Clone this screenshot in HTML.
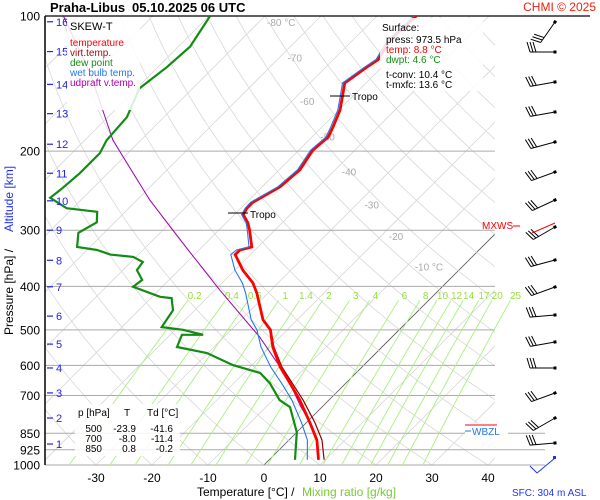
<!DOCTYPE html>
<html><head><meta charset="utf-8"><style>
body{margin:0;background:#fff;}
svg{display:block;font-family:"Liberation Sans",sans-serif;}
</style></head><body>
<svg id="chart" width="600" height="500" viewBox="0 0 600 500">
<defs><clipPath id="pc"><rect x="45" y="16" width="450" height="449"/></clipPath></defs>
<rect x="0" y="0" width="600" height="500" fill="#fff"/>
<g id="bg" clip-path="url(#pc)"></g>
<g id="plines"></g>
<g id="mix"></g>
<g id="series" clip-path="url(#pc)"></g>
<g id="axes"></g>
<g id="winds"></g>
<g id="txt"></g>
</svg>
<script>
const NS="http://www.w3.org/2000/svg";
// ---- data ----
const pressureTicks=[100,200,300,400,500,600,700,850,925,1000];
const tempTicks=[-30,-20,-10,0,10,20,30,40];
const isothermLabels=[-80,-70,-60,-50,-40,-30,-20,-10];
const altitudeKm=[1,2,3,4,5,6,7,8,9,10,11,12,13,14,15,16];
const altitudeP=[898,786,691,608,538,466,401,350,300,258,224,193,165,142,120,103];
const mixingRatios=[0.2,0.4,0.6,1,1.4,2,3,4,6,8,10,12,14,17,20,25];
const tempP=[973.5,880,806,717,657,605,546,500,475,414,393,368,340,332,327,300,289,277,268,260,240,220,199,186,177,162,150,141,130,125,113,100];
const tempT=[8.8,5.0,0.7,-5.2,-10.0,-14.6,-19.5,-23.0,-26.1,-32.0,-34.5,-38.6,-42.7,-42.7,-41.1,-44.5,-46.1,-48.4,-48.9,-48.9,-46.8,-46.3,-47.5,-47.1,-48.0,-49.8,-52.0,-53.8,-52.7,-52.0,-53.4,-53.0];
const virtT=[9.8,5.9,1.6,-4.6,-9.6,-14.3,-19.3,-22.9,-26.0,-32.0,-34.5,-38.6,-42.7,-42.7,-41.1,-44.5,-46.1,-48.4,-48.9,-48.9,-46.8,-46.3,-47.5,-47.1,-48.0,-49.8,-52.0,-53.8,-52.7,-52.0,-53.4,-53.0];
const wetBulbT=[6.8,3.3,-0.8,-6.6,-11.5,-16.3,-21.6,-25.4,-28.2,-34.0,-36.4,-40.0,-43.5,-43.3,-41.6,-44.9,-46.4,-48.7,-49.2,-49.3,-47.2,-46.7,-47.9,-47.5,-48.4,-50.2,-52.4,-54.2,-53.1,-52.4,-53.8,-53.4];
const dewP=[973.5,845,743,717,657,624,599,563,546,513,513,500,493,452,425,422,401,387,368,353,344,340,332,327,304,288,273,268,254,244,224,202,189,168,145,130,117,100];
const dewT=[4.6,0.0,-5.7,-8.8,-13.6,-17.1,-23.4,-30.2,-36.6,-37.9,-34.1,-38.6,-42.9,-43.9,-46.3,-48.6,-55.2,-54.8,-57.5,-57.9,-60.5,-65,-68.2,-72.3,-74.6,-73.2,-75,-81.1,-85.9,-85.5,-85,-85,-86.1,-86.6,-89.5,-88.4,-87.9,-89.8];
const parcelP=[973.5,880,806,735,637,519,408,329,257,189,135,100];
const parcelT=[8.8,5.0,0.7,-4.3,-11.6,-23.6,-39.1,-52.5,-67.7,-85,-100.7,-116];
const windY=[22,52,82,112,142,172,200,227,260,287,315,342,368,393,418,443];
const windAng=[-55,0,-10,-10,-15,-20,-25,-30,-15,-20,-5,-10,0,-20,-30,-5];
// ---- axis functions ----
const X0=264,Y0=465,K=449,SX=5.6;
function yP(p){return Y0-K*Math.log10(1000/p);}
function xT(t,p){return X0+SX*t+(Y0-yP(p));}
function el(tag,attrs,parent,text){const e=document.createElementNS(NS,tag);for(const k in attrs)e.setAttribute(k,attrs[k]);if(text!==undefined)e.textContent=text;parent.appendChild(e);return e;}
function pathOf(ps,ts){return ps.map((p,i)=>(i?'L':'M')+xT(ts[i],p).toFixed(1)+' '+yP(p).toFixed(1)).join(' ');}
const bg=document.getElementById('bg');
for(let t=-160;t<=50;t+=10){const p1=1000,p2=100;
 const l=el('line',{x1:xT(t,p1),y1:yP(p1),x2:xT(t,p2),y2:yP(p2),stroke:t===0?'#555':'#d8d8d8','stroke-width':0.8},bg);
 }
for(let th=-40;th<=220;th+=10){let d='';for(let p=1050;p>=100;p-=10){const T=(th+273.15)*Math.pow(p/1000,0.286)-273.15;d+=(p===1050?'M':'L')+xT(T,p).toFixed(1)+' '+yP(p).toFixed(1);}
 const a=el('path',{d:d,fill:'none',stroke:'#d8d8d8','stroke-width':0.8},bg);
 }
const pl=document.getElementById('plines');
pressureTicks.forEach(p=>{const y=yP(p);const x2=p===100?590:(p>=850?545:495);
 const l=el('line',{x1:45,y1:y,x2:x2,y2:y,stroke:p===100?'#000':'#aaa','stroke-width':p===100?1.2:1},pl);
 
 const t=el('text',{x:40,y:y+4.5,'text-anchor':'end','font-size':12,fill:'#000'},pl,String(p));
 });
const mx=document.getElementById('mix');
function tdOf(w,p){const e=w*p/(622+w);const a=Math.log(e/6.112);return 243.5*a/(17.67-a);}
mixingRatios.forEach(w=>{let d='';for(let p=430;p<=1000;p+=10){d+=(p===430?'M':'L')+xT(tdOf(w,p),p).toFixed(1)+' '+yP(p).toFixed(1);}
 const l=el('path',{d:d,fill:'none',stroke:'#a8f080','stroke-width':0.9},mx);
 
 const t=el('text',{x:xT(tdOf(w,410),410),y:299,'text-anchor':'middle','font-size':10,fill:'#99dd44'},mx,String(w));
 });
isothermLabels.forEach((t,i)=>{const p=[100,120,150,180,215,255,300,350][i];
 const s=el('text',{x:xT(t,p)+2,y:yP(p)+10,'font-size':10,fill:'#aaa'},bg,(t===-80||t===-10)?t+' °C':String(t));
 });
const sr=document.getElementById('series');
let s;
s=el('path',{d:pathOf(parcelP,parcelT),fill:'none',stroke:'#a000b0','stroke-width':1},sr);

s=el('path',{d:pathOf(dewP,dewT),fill:'none',stroke:'#138c13','stroke-width':2.2},sr);

s=el('path',{d:pathOf(tempP,virtT),fill:'none',stroke:'#8b0000','stroke-width':1.2},sr);

s=el('path',{d:pathOf(tempP,tempT),fill:'none',stroke:'#ff0000','stroke-width':2.8},sr);

s=el('path',{d:pathOf(tempP,wetBulbT),fill:'none',stroke:'#2277ee','stroke-width':1.1},sr);

const ax=document.getElementById('axes');
s=el('line',{x1:45,y1:16,x2:45,y2:465,stroke:'#000','stroke-width':1.5},ax);

tempTicks.forEach(t=>{const e=el('text',{x:xT(t,1000),y:482,'text-anchor':'middle','font-size':12,fill:'#000'},ax,String(t));
 });
altitudeKm.forEach((k,i)=>{const y=yP(altitudeP[i]);
 const l=el('line',{x1:47,y1:y,x2:53,y2:y,stroke:'#2222ee','stroke-width':1.2},ax);
 
 const t=el('text',{x:56,y:y+4,'font-size':11,fill:'#2222ee'},ax,String(k));
 });
const wd=document.getElementById('winds');
windY.forEach((y,i)=>{const g=el('g',{transform:'translate(555,'+y+') rotate('+windAng[i]+')'},wd);
 
 el('line',{x1:0,y1:0,x2:-25,y2:0,stroke:'#000','stroke-width':1},g);
 el('rect',{x:-1.5,y:-1.5,width:3,height:3,fill:'#000'},g);
 for(let b=0;b<3;b++)el('line',{x1:-25+b*3,y1:0,x2:-25+b*3-3,y2:-10,stroke:'#000','stroke-width':1},g);});
s=el('polyline',{points:'530,466 537,473 555,458',fill:'none',stroke:'#2233ee','stroke-width':1},wd);

el('rect',{x:553,y:456,width:3,height:3,fill:'#2233ee'},wd);
el('line',{x1:555,y1:223,x2:532,y2:233,stroke:'#f00','stroke-width':1},wd);
</script>
<svg width="600" height="500" style="position:absolute;left:0;top:0" viewBox="0 0 600 500" font-family="Liberation Sans, sans-serif">
<g><text x="50" y="12" font-size="13" font-weight="bold">Praha-Libus</text><text x="132" y="12" font-size="13" font-weight="bold">05.10.2025 06 UTC</text></g>
<text x="596" y="11" text-anchor="end" font-size="12" fill="#e21">CHMI © 2025</text>
<g>
<rect x="67" y="17" width="73" height="93" fill="#fff" opacity="0.85"/>
<text x="70" y="30" font-size="11">SKEW-T</text>
<text x="70" y="46" font-size="10" fill="#f00">temperature</text>
<text x="70" y="56" font-size="10" fill="#a01010">virt.temp.</text>
<text x="70" y="66" font-size="10" fill="#139013">dew point</text>
<text x="70" y="76" font-size="10" fill="#2277ee">wet bulb temp.</text>
<text x="70" y="86" font-size="10" fill="#b000b0">udpraft v.temp.</text>
</g>
<g>
<rect x="380" y="18" width="103" height="73" fill="#fff" opacity="0.85"/>
<text x="382" y="31" font-size="10">Surface:</text>
<text x="386" y="43" font-size="10">press: 973.5 hPa</text>
<text x="386" y="53" font-size="10" fill="#f00">temp: 8.8 °C</text>
<text x="386" y="63" font-size="10" fill="#139013">dwpt: 4.6 °C</text>
<text x="386" y="78" font-size="10">t-conv: 10.4 °C</text>
<text x="386" y="88" font-size="10">t-mxfc: 13.6 °C</text>
</g>
<g>
<line x1="228" y1="213" x2="248" y2="213" stroke="#000"/><text x="250" y="218" font-size="10">Tropo</text>
<line x1="330" y1="96" x2="350" y2="96" stroke="#000"/><text x="352" y="100" font-size="10">Tropo</text>
</g>
<g>
<rect x="75" y="404" width="105" height="52" fill="#fff" opacity="0.85"/>
<text x="78" y="416" font-size="10">p [hPa]</text><text x="124" y="416" font-size="10">T</text><text x="147" y="416" font-size="10">Td [°C]</text>
<text x="102" y="432" font-size="10" text-anchor="end">500</text><text x="136" y="432" font-size="10" text-anchor="end">-23.9</text><text x="173" y="432" font-size="10" text-anchor="end">-41.6</text>
<text x="102" y="442" font-size="10" text-anchor="end">700</text><text x="136" y="442" font-size="10" text-anchor="end">-8.0</text><text x="173" y="442" font-size="10" text-anchor="end">-11.4</text>
<text x="102" y="452" font-size="10" text-anchor="end">850</text><text x="136" y="452" font-size="10" text-anchor="end">0.8</text><text x="173" y="452" font-size="10" text-anchor="end">-0.2</text>
</g>
<g><text x="482" y="229" font-size="10" fill="#f00">MXWS</text><line x1="513" y1="226" x2="520" y2="226" stroke="#f00"/></g>
<g><rect x="465" y="423" width="43" height="14" fill="#fff"/><line x1="465" y1="425" x2="497" y2="425" stroke="#f00"/><line x1="465" y1="431" x2="471" y2="431" stroke="#2277ee"/><text x="472" y="435" font-size="10" fill="#2277ee">WBZL</text></g>
<text x="197" y="496" font-size="12">Temperature [°C]  /</text>
<text x="302" y="496" font-size="12" fill="#77cc33">Mixing ratio [g/kg]</text>
<text x="512" y="496" font-size="10" fill="#2233ee">SFC: 304 m ASL</text>
<g transform="translate(13,335) rotate(-90)"><text x="0" y="0" font-size="12">Pressure [hPa]  / </text><text x="103" y="0" font-size="12" fill="#2233ee">Altitude [km]</text></g>
</svg>
</body></html>
